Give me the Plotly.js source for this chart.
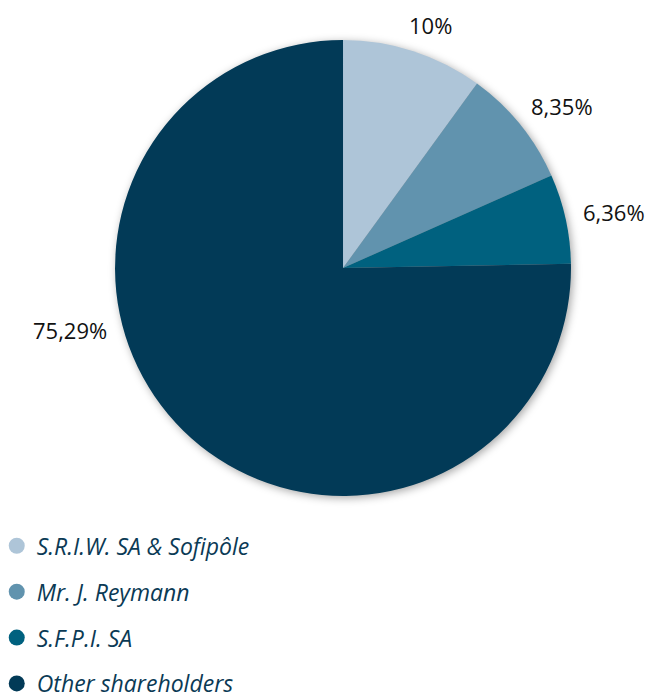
<!DOCTYPE html>
<html>
<head>
<meta charset="utf-8">
<script src="https://cdn.plot.ly/plotly-3.0.1.min.js"></script>
<style>
html,body{margin:0;padding:0;background:#fff;}
.pielayer{filter: drop-shadow(2px 2px 4px rgba(0,0,0,0.35));}
</style>
</head>
<body>
<div id="chart" style="width:651px;height:700px;"></div>
<script>
const categories = ['S.R.I.W. SA & Sofipôle', 'Mr. J. Reymann', 'S.F.P.I. SA', 'Other shareholders'];
const shares = [10, 8.35, 6.36, 75.29];
const shareLabels = ['10%', '8,35%', '6,36%', '75,29%'];
const colors = ['#aec5d8', '#6193ae', '#00617f', '#023a57'];

// label anchor positions (paper coords) for the outside percentage labels
const labelPos = [[0.661, 0.964], [0.863, 0.849], [0.943, 0.697], [0.108, 0.529]];

const legendFont = {family: 'Open Sans, sans-serif', size: 23, color: '#0b3a55', style: 'italic'};

const traces = [{
  type: 'pie',
  labels: categories,
  values: shares,
  sort: false,
  direction: 'clockwise',
  rotation: 0,
  marker: {colors: colors, line: {width: 0}},
  textinfo: 'none',
  hoverinfo: 'label+percent',
  showlegend: false,
  domain: {x: [0.1767, 0.8771], y: [0.2914, 0.9429]}
}];

categories.forEach((c, i) => {
  traces.push({
    type: 'scatter', mode: 'markers',
    x: [null], y: [null],
    name: c,
    legendgroup: 'g' + i,
    marker: {color: colors[i], size: 20, symbol: 'circle'},
    showlegend: true,
    hoverinfo: 'skip'
  });
});

const annotations = shareLabels.map((t, i) => ({
  text: t, xref: 'paper', yref: 'paper',
  x: labelPos[i][0], y: labelPos[i][1],
  xanchor: 'center', yanchor: 'middle', showarrow: false,
  font: {family: 'Open Sans, sans-serif', size: 22, color: '#111'}
}));

const layout = {
  width: 651, height: 700,
  margin: {l: 0, r: 0, t: 0, b: 0, autoexpand: false},
  paper_bgcolor: '#fff', plot_bgcolor: '#fff',
  xaxis: {visible: false}, yaxis: {visible: false},
  showlegend: true,
  legend: {
    x: -0.005, y: 0.251, xanchor: 'left', yanchor: 'top',
    font: legendFont, tracegroupgap: 13, itemsizing: 'trace',
    bgcolor: 'rgba(0,0,0,0)'
  },
  annotations: annotations
};

Plotly.newPlot('chart', traces, layout, {displayModeBar: false, staticPlot: true});
</script>
</body>
</html>
